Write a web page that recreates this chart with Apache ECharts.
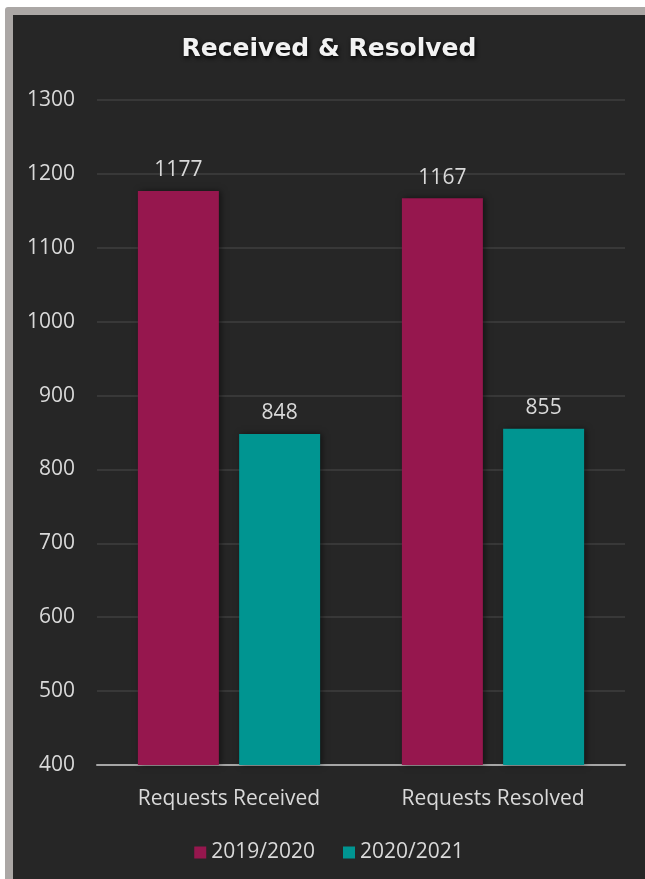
<!DOCTYPE html>
<html>
<head>
<meta charset="utf-8">
<script src="https://cdn.jsdelivr.net/npm/echarts@6/dist/echarts.min.js"></script>
<style>
html,body{margin:0;padding:0;background:#fff;width:645px;height:879px;overflow:hidden;}
#frame{position:absolute;left:5px;top:7px;width:640px;height:872px;background:#aba7a5;border-top-left-radius:3px;}
#chart{position:absolute;left:13px;top:15px;width:632px;height:864px;background:#262626;}
</style>
</head>
<body>
<div id="frame"></div>
<div id="chart"></div>
<script>
const categories = ['Requests Received', 'Requests Resolved'];
const seriesNames = ['2019/2020', '2020/2021'];
const values2019 = [1177, 1167];
const values2020 = [848, 855];
const yTicks = { min: 400, max: 1300, interval: 100 };

const fontFamily = '"Open Sans", Lato, sans-serif';
const textColor = '#d9d9d9';
const chart = echarts.init(document.getElementById('chart'));
const labelStyle = { show: true, position: 'top', distance: 10, color: textColor, fontSize: 21, fontFamily };
chart.setOption({
  backgroundColor: '#262626',
  title: {
    text: 'Received & Resolved',
    left: 'center',
    top: 17,
    textStyle: {
      color: '#f2f2f2', fontSize: 25, fontWeight: 'bold', fontFamily: '"DejaVu Sans", sans-serif',
      textShadowColor: 'rgba(0,0,0,0.9)', textShadowBlur: 4, textShadowOffsetX: 1, textShadowOffsetY: 2
    }
  },
  legend: {
    bottom: 11,
    left: 'center',
    itemWidth: 12, itemHeight: 12, itemGap: 28,
    icon: 'rect',
    textStyle: { color: textColor, fontSize: 21, fontFamily },
    data: seriesNames
  },
  grid: { left: 84, right: 20, top: 85, bottom: 114 },
  xAxis: {
    type: 'category',
    data: categories,
    axisLine: { lineStyle: { color: '#a6a6a6', width: 2 } },
    axisTick: { show: false },
    axisLabel: { color: textColor, fontSize: 21, fontFamily, margin: 24 }
  },
  yAxis: {
    type: 'value',
    min: yTicks.min, max: yTicks.max, interval: yTicks.interval,
    axisLine: { show: false },
    axisTick: { show: false },
    axisLabel: { color: textColor, fontSize: 21, fontFamily, margin: 22, formatter: v => String(v) },
    splitLine: { lineStyle: { color: '#3f3f3f', width: 1.5 } }
  },
  series: [
    {
      name: seriesNames[0], type: 'bar', data: values2019,
      barWidth: 81, barGap: '25%',
      itemStyle: { color: '#96174e', shadowColor: 'rgba(0,0,0,0.5)', shadowBlur: 6, shadowOffsetX: 2 },
      label: labelStyle
    },
    {
      name: seriesNames[1], type: 'bar', data: values2020,
      barWidth: 81,
      itemStyle: { color: '#009591', shadowColor: 'rgba(0,0,0,0.5)', shadowBlur: 6, shadowOffsetX: 2 },
      label: labelStyle
    }
  ]
});
</script>
</body>
</html>
